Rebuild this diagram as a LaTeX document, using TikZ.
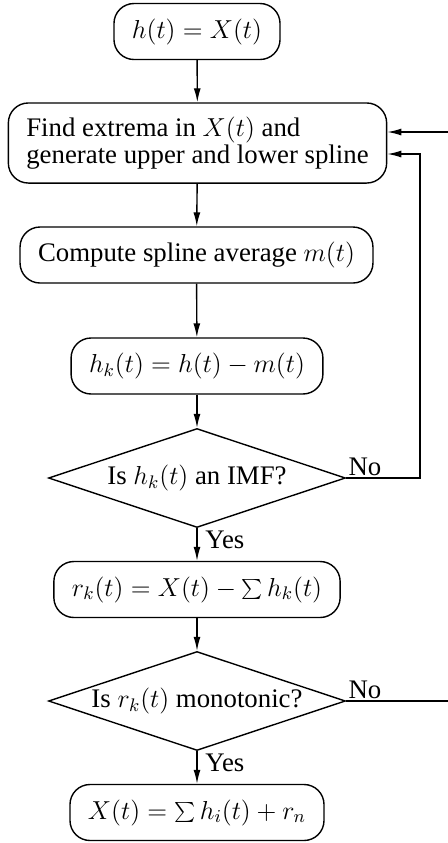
\RequirePackage{fix-cm}
\documentclass[tikz,border=0pt]{standalone}
\usepackage{fontspec}
\setmainfont{Liberation Serif}
\usetikzlibrary{arrows.meta,shapes.geometric}
\DeclareMathSizes{13.4}{13}{9.1}{6.5}
\newcommand{\flowfont}{\fontsize{13.4}{13.4}\selectfont}

\begin{document}
\begin{tikzpicture}[x=0.5pt,y=-0.5pt,
  procbox/.style={draw,rounded corners=10pt,line width=0.7pt,minimum height=28pt,
    inner xsep=9pt,inner ysep=7pt,font=\flowfont},
  decbox/.style={draw,diamond,aspect=3,line width=0.7pt,inner sep=0pt,
    minimum width=148.5pt,minimum height=49.5pt,font=\flowfont},
  flow/.style={line width=0.7pt,-{Latex[length=7pt,width=3.5pt]}},
  branch/.style={font=\flowfont,inner sep=1pt}]
  \useasboundingbox (0,0) rectangle (447,843);
  % main column
  \node[procbox] (start) at (197,31.5) {$h(t)=X(t)$};
  \node[procbox,align=left] (extrema) at (197.5,143) {Find extrema in $X(t)$ and\\generate upper and lower spline};
  \node[procbox] (mean) at (196.5,255) {Compute spline average $m(t)$};
  \node[procbox] (hk) at (197,366) {$h_k(t)=h(t)-m(t)$};
  \node[decbox] (isimf) at (197,478) {Is $h_k(t)$ an IMF?};
  \node[procbox] (rk) at (197,589.5) {$r_k(t)=X(t)-\sum h_k(t)$};
  \node[decbox] (ismono) at (197,701) {Is $r_k(t)$ monotonic?};
  \node[procbox] (result) at (197,812.5) {$X(t)=\sum h_i(t)+r_n$};
  \draw[flow] (start) -- (extrema);
  \draw[flow] (extrema) -- (mean);
  \draw[flow] (mean) -- (hk);
  \draw[flow] (hk) -- (isimf);
  \draw[flow] (isimf) -- (rk);
  \draw[flow] (rk) -- (ismono);
  \draw[flow] (ismono) -- (result);
  % yes / no
  \node[branch,anchor=north west] (yesimf) at ([xshift=3pt]isimf.south) {Yes};
  \node[branch,anchor=north west] (yesmono) at ([xshift=3pt]ismono.south) {Yes};
  \node[branch,anchor=south west] (noimf) at (isimf.east) {No};
  \node[branch,anchor=south west] (nomono) at (ismono.east) {No};
  % loops back
  \coordinate (loopimf) at (420,154);
  \coordinate (loopmono) at (470,132);
  \draw[flow] (isimf.east) -| (loopimf) -- (loopimf -| extrema.east);
  \draw[flow] (ismono.east) -| (loopmono) -- (loopmono -| extrema.east);
\end{tikzpicture}
\end{document}
